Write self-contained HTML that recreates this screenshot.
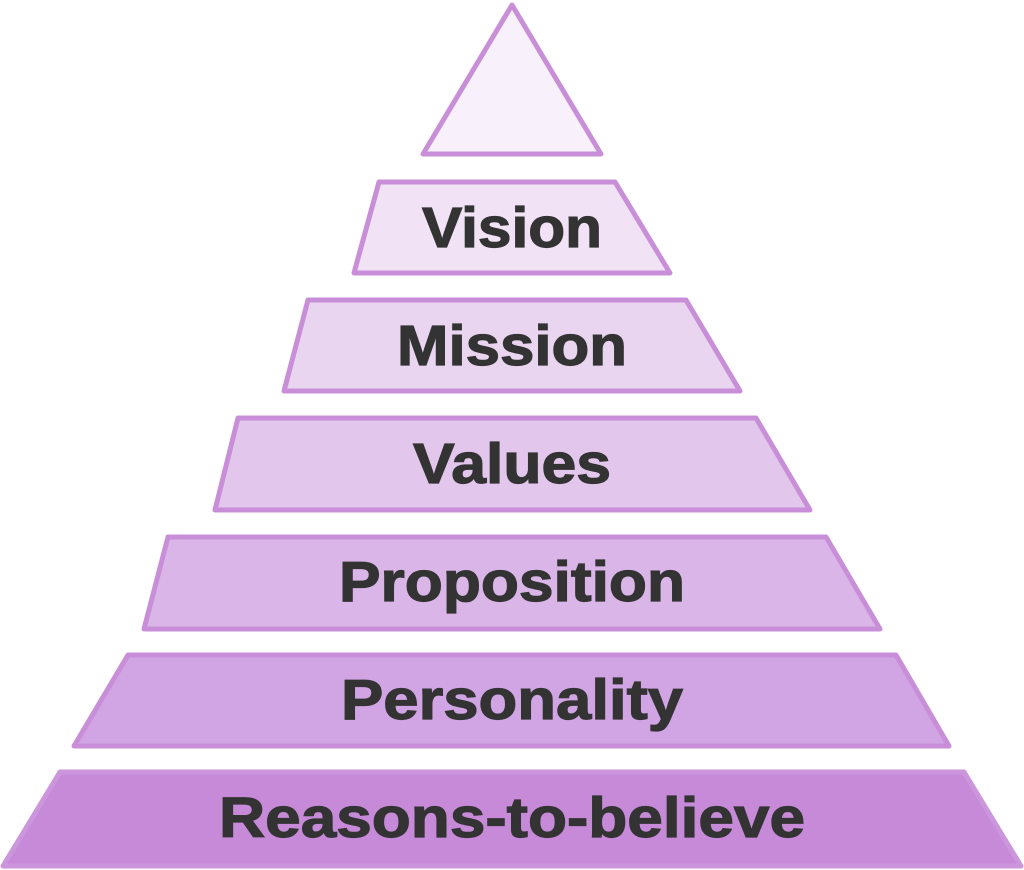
<!DOCTYPE html>
<html><head><meta charset="utf-8"><style>html,body{margin:0;padding:0;background:#fff}svg{display:block}</style></head>
<body>
<svg width="1024" height="870" viewBox="0 0 1024 870" xmlns="http://www.w3.org/2000/svg">
<g stroke="#c88fd8" stroke-width="5" stroke-linejoin="round">
<polygon points="512,5 423,154 601,154" fill="#f8f0fa"/>
<polygon points="379,182 615,182 670,273 354,273" fill="#f1e2f6"/>
<polygon points="308,300 686,300 740,391 284,391" fill="#ead5f1"/>
<polygon points="238,418 756,418 810,510 215,510" fill="#e2c6ec"/>
<polygon points="168,537 826,537 880,629 144,629" fill="#dab6e8"/>
<polygon points="128,655 896,655 949,746 74,746" fill="#d1a4e3"/>
<polygon points="60,772 964,772 1021,866 3,866" fill="#c68ad8" stroke="#cb96dc"/>
</g>
<g font-family="Liberation Sans, Arial, sans-serif" font-weight="bold" font-size="57" fill="#333" stroke="#333" stroke-width="1.2" text-anchor="middle">
<text x="512" y="247" textLength="180" lengthAdjust="spacingAndGlyphs">Vision</text>
<text x="512" y="365" textLength="230" lengthAdjust="spacingAndGlyphs">Mission</text>
<text x="512" y="483" textLength="198" lengthAdjust="spacingAndGlyphs">Values</text>
<text x="512" y="601" textLength="346" lengthAdjust="spacingAndGlyphs">Proposition</text>
<text x="512" y="719" textLength="342" lengthAdjust="spacingAndGlyphs">Personality</text>
<text x="512" y="837" textLength="586" lengthAdjust="spacingAndGlyphs">Reasons-to-believe</text>
</g>
</svg>
</body></html>
